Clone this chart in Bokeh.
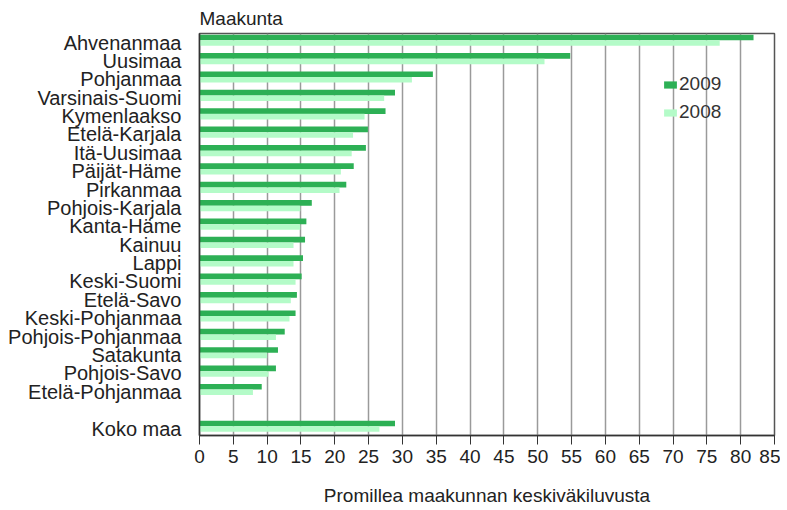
from bokeh.plotting import figure
from bokeh.models import Range1d, FixedTicker, Legend, LegendItem, ColumnDataSource
from bokeh.embed import file_html
from bokeh.resources import INLINE

regions = ["Ahvenanmaa", "Uusimaa", "Pohjanmaa", "Varsinais-Suomi", "Kymenlaakso",
           "Etelä-Karjala", "Itä-Uusimaa", "Päijät-Häme", "Pirkanmaa", "Pohjois-Karjala",
           "Kanta-Häme", "Kainuu", "Lappi", "Keski-Suomi", "Etelä-Savo",
           "Keski-Pohjanmaa", "Pohjois-Pohjanmaa", "Satakunta", "Pohjois-Savo",
           "Etelä-Pohjanmaa", "Koko maa"]
v2009 = [81.9, 54.8, 34.5, 28.9, 27.5, 24.9, 24.6, 22.8, 21.7, 16.6,
         15.8, 15.6, 15.3, 15.1, 14.4, 14.2, 12.6, 11.6, 11.3, 9.2, 28.9]
v2008 = [76.9, 51.0, 31.4, 27.3, 24.4, 22.7, 22.5, 20.9, 20.7, 14.9,
         14.9, 13.9, 13.9, 14.2, 13.5, 13.3, 11.3, 10.0, 10.2, 7.9, 26.6]
x_ticks = list(range(0, 90, 5))

FONT = "Liberation Sans"
DARK = "#2DB055"
LIGHT = "#B4FBC8"

# row positions: one empty row before the national total
pos = [float(i) for i in range(len(regions) - 1)] + [21.0]
off = 0.152
src = ColumnDataSource(dict(
    y09=[p_ - off for p_ in pos], y08=[p_ + off for p_ in pos],
    v09=v2009, v08=v2008))

p = figure(frame_width=575, frame_height=402, output_backend="svg", toolbar_location=None,
           x_range=Range1d(0, 85), y_range=Range1d(21.5, -0.37),
           min_border_left=199, min_border_right=6, min_border_top=25, min_border_bottom=70)

r09 = p.hbar(y="y09", left=0, right="v09", height=0.31, color=DARK, line_color=None, source=src)
r08 = p.hbar(y="y08", left=0, right="v08", height=0.30, color=LIGHT, line_color=None, source=src)

p.title.text = "Maakunta"
p.title.text_font = FONT
p.title.text_font_size = "19px"
p.title.text_font_style = "normal"
p.title.text_color = "#222222"
p.title.align = "left"
p.title.offset = 0

p.outline_line_color = "#555555"
p.outline_line_width = 1.5

p.ygrid.grid_line_color = None
p.xgrid.grid_line_color = "#9A9A9A"
p.xgrid.grid_line_width = 1.5
p.xgrid.ticker = FixedTicker(ticks=x_ticks)

xa = p.xaxis[0]
xa.ticker = FixedTicker(ticks=x_ticks)
xa.axis_label = "Promillea maakunnan keskiväkiluvusta"
xa.axis_label_text_font = FONT
xa.axis_label_text_font_size = "19px"
xa.axis_label_text_font_style = "normal"
xa.axis_label_text_color = "#222222"
xa.axis_label_standoff = 19
xa.major_label_text_font = FONT
xa.major_label_text_font_size = "19px"
xa.major_label_text_color = "#222222"
xa.major_label_standoff = 5
xa.major_tick_in = 0
xa.major_tick_out = 9
xa.major_tick_line_color = "#333333"
xa.minor_tick_line_color = None
xa.axis_line_color = "#333333"
xa.axis_line_width = 1.5

label_pos = [p_ + 0.12 for p_ in pos]
ya = p.yaxis[0]
ya.ticker = FixedTicker(ticks=label_pos)
ya.major_label_overrides = {pp: name for pp, name in zip(label_pos, regions)}
ya.major_label_text_font = FONT
ya.major_label_text_font_size = "20px"
ya.major_label_text_color = "#222222"
ya.major_label_standoff = 12
ya.major_tick_line_color = None
ya.minor_tick_line_color = None
ya.axis_line_color = "#333333"
ya.axis_line_width = 1.5

legend = Legend(items=[LegendItem(label="2009", renderers=[r09]),
                       LegendItem(label="2008", renderers=[r08])],
                location=(463, 312), orientation="vertical")
legend.background_fill_alpha = 0
legend.border_line_color = None
legend.padding = 0
legend.margin = 0
legend.spacing = 6
legend.glyph_width = 16
legend.glyph_height = 9
legend.label_standoff = 1
legend.label_height = 18
legend.label_text_font = FONT
legend.label_text_font_size = "19px"
legend.label_text_color = "#333333"
p.add_layout(legend)

open("out.html", "w").write(file_html(p, INLINE))
